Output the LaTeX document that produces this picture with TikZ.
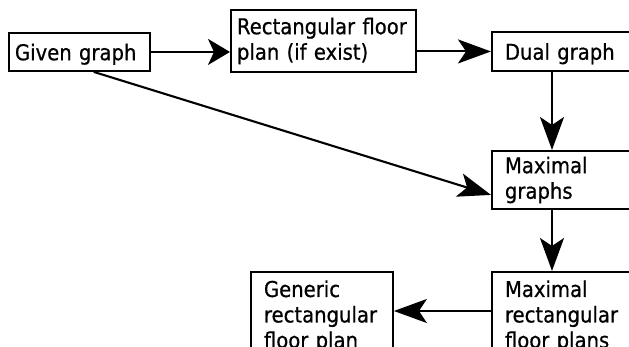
\documentclass[tikz,border=0pt]{standalone}
\usepackage{fontspec}
\setmainfont{DejaVu Sans}
\newfontfamily\boxfont[FakeStretch=0.9, FakeBold=0.6]{DejaVu Sans}
\usetikzlibrary{calc,arrows.meta}

\begin{document}
\begin{tikzpicture}[x=1pt, y=-1pt, >=Stealth,
    box/.style={draw, line width=1.9pt, anchor=north west, align=left,
                inner ysep=0pt, font=\boxfont\fontsize{21.8}{25.5}\selectfont},
    flow/.style={-{Stealth[length=33pt, width=24pt, inset=8pt]}, line width=2.1pt}]
  \clip (0,0) rectangle (629,347);
  \fill[white] (0,0) rectangle (629,347);
  \node[box, inner xsep=6pt, text width=129pt, minimum height=38pt, text depth=0pt]
        (given) at (8,32) {Given graph};
  \node[box, inner xsep=6pt, text width=173pt, minimum height=62pt]
        (rect) at (230,9) {Rectangular floor\\plan (if exist)};
  \node[box, inner xsep=13pt, text width=144pt, minimum height=39pt, text depth=0pt]
        (dual) at (491,31) {Dual graph};
  \node[box, inner xsep=13pt, text width=144pt, minimum height=58pt]
        (maxg) at (491,150) {Maximal\\graphs};
  \node[box, inner xsep=13pt, text width=144pt, minimum height=89pt]
        (mrfp) at (491,271) {Maximal\\rectangular\\floor plans};
  \node[box, inner xsep=13pt, text width=116pt, minimum height=89pt]
        (generic) at (250,271) {Generic\\rectangular\\floor plan};
  \coordinate (col) at (552,0);
  \coordinate (row) at (0,311);
  \draw[flow, -{Stealth[length=22pt, width=26pt, inset=6pt]}]
    (given) -- (given -| rect.west);
  \draw[flow] (rect.east |- dual) -- (dual);
  \draw[flow] (dual.south -| col) -- (maxg.north -| col);
  \draw[flow] ($(given.south west)!0.6!(given.south east)$)
    -- ($(maxg.north west)!0.75!(maxg.south west)$);
  \draw[flow] (maxg.south -| col) -- (mrfp.north -| col);
  \draw[flow] (mrfp.west |- row) -- (generic.east |- row);
\end{tikzpicture}
\end{document}
